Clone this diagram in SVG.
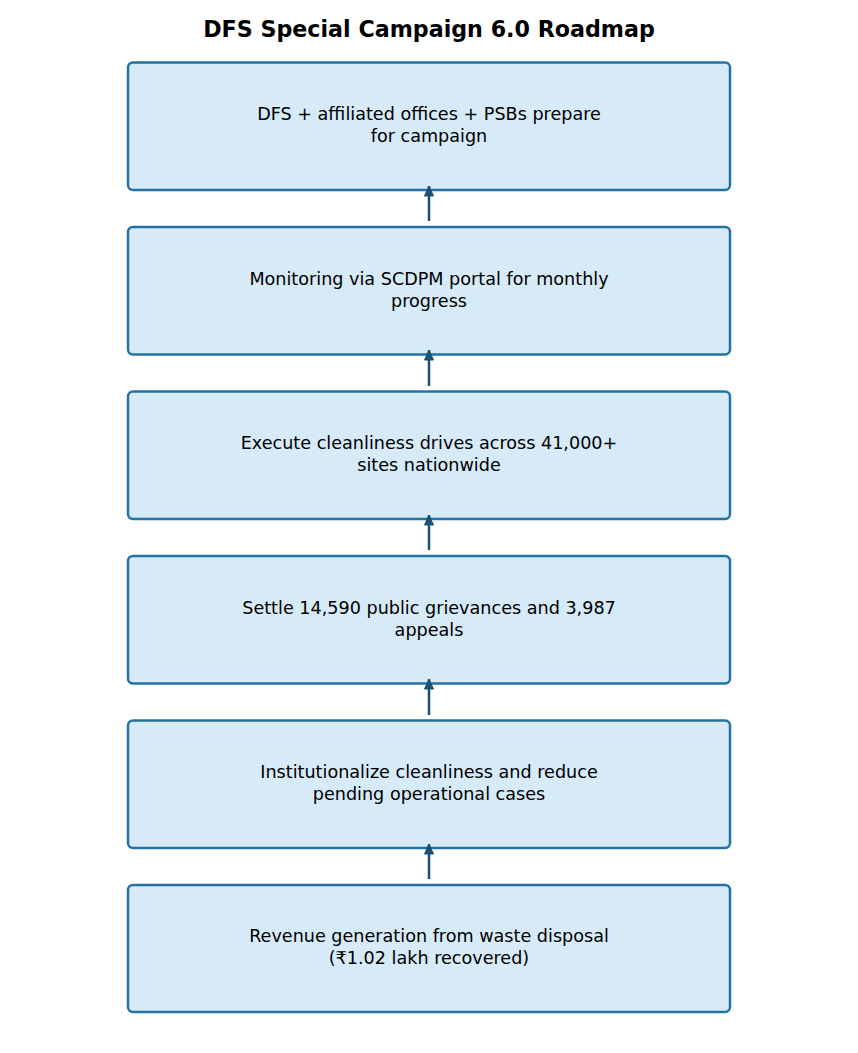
<svg xmlns="http://www.w3.org/2000/svg" width="858" height="1053" viewBox="0 0 858 1053">
<defs>
<style>
.box{fill:#d6eaf8;stroke:#2471a3;stroke-width:2.5}
.lbl{font-family:"DejaVu Sans",sans-serif;font-size:17.6px;fill:#000;text-anchor:middle}
.title{font-family:"DejaVu Sans",sans-serif;font-size:22.2px;font-weight:bold;fill:#000;text-anchor:middle}
.conn{stroke:#1a5276;stroke-width:2.5;fill:none;marker-end:url(#ah)}
</style>
<marker id="ah" viewBox="-1 -1 12 12" refX="10" refY="5" markerWidth="4.8" markerHeight="4.8" orient="auto" markerUnits="strokeWidth">
<path d="M0,0.5 L10,5 L0,9.5 z" fill="#1a5276" stroke="#1a5276" stroke-width="1" stroke-linejoin="round"/>
</marker>
</defs>
<rect width="858" height="1053" fill="#fff"/>
<text class="title" x="429" y="37">DFS Special Campaign 6.0 Roadmap</text>
<g id="n1">
<rect class="box" x="128" y="62.5" width="602" height="127.5" rx="5"/>
<text class="lbl" x="429" y="120">DFS + affiliated offices + PSBs prepare</text>
<text class="lbl" x="429" y="142">for campaign</text>
</g>
<g id="n2">
<rect class="box" x="128" y="227" width="602" height="127.5" rx="5"/>
<text class="lbl" x="429" y="285">Monitoring via SCDPM portal for monthly</text>
<text class="lbl" x="429" y="307">progress</text>
</g>
<g id="n3">
<rect class="box" x="128" y="391.5" width="602" height="127.5" rx="5"/>
<text class="lbl" x="429" y="449">Execute cleanliness drives across 41,000+</text>
<text class="lbl" x="429" y="471">sites nationwide</text>
</g>
<g id="n4">
<rect class="box" x="128" y="556" width="602" height="127.5" rx="5"/>
<text class="lbl" x="429" y="614">Settle 14,590 public grievances and 3,987</text>
<text class="lbl" x="429" y="636">appeals</text>
</g>
<g id="n5">
<rect class="box" x="128" y="720.5" width="602" height="127.5" rx="5"/>
<text class="lbl" x="429" y="778">Institutionalize cleanliness and reduce</text>
<text class="lbl" x="429" y="800">pending operational cases</text>
</g>
<g id="n6">
<rect class="box" x="128" y="885" width="602" height="127" rx="5"/>
<text class="lbl" x="429" y="942">Revenue generation from waste disposal</text>
<text class="lbl" x="429" y="964">(₹1.02 lakh recovered)</text>
</g>
<g id="connectors">
<line class="conn" x1="429" y1="221" x2="429" y2="186"/>
<line class="conn" x1="429" y1="386" x2="429" y2="350"/>
<line class="conn" x1="429" y1="550" x2="429" y2="515"/>
<line class="conn" x1="429" y1="715" x2="429" y2="679"/>
<line class="conn" x1="429" y1="879" x2="429" y2="844"/>
</g>
</svg>
